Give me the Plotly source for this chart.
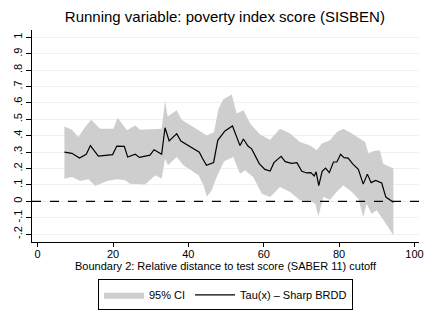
import plotly.graph_objects as go

# Point estimate Tau(x)
x_tau = [7.1, 9.1, 11.1, 12.9, 14.0, 16.1, 19.9, 21.0, 23.0, 23.9, 25.9, 27.0, 29.8, 30.9, 32.9,
         33.8, 34.9, 36.9, 38.0, 42.9, 43.8, 44.8, 46.7, 47.8, 49.7, 51.7, 53.7, 54.6, 55.8, 56.8,
         58.8, 60.3, 61.7, 62.7, 64.6, 65.7, 67.4, 68.8, 70.1, 71.4, 72.5, 73.4, 73.9, 74.6, 75.5,
         76.4, 77.4, 78.5, 79.4, 80.4, 81.3, 82.4, 83.6, 85.1, 86.4, 87.5, 88.5, 89.7, 91.3, 92.4, 94.4]
tau = [0.300, 0.293, 0.264, 0.287, 0.340, 0.276, 0.285, 0.337, 0.335, 0.270, 0.287, 0.268, 0.282, 0.315, 0.287,
       0.449, 0.368, 0.413, 0.368, 0.300, 0.260, 0.220, 0.237, 0.372, 0.429, 0.460, 0.340, 0.380, 0.337, 0.320,
       0.230, 0.195, 0.185, 0.236, 0.274, 0.242, 0.232, 0.236, 0.183, 0.173, 0.175, 0.155, 0.180, 0.096, 0.183,
       0.203, 0.175, 0.240, 0.240, 0.287, 0.266, 0.264, 0.228, 0.195, 0.105, 0.166, 0.114, 0.128, 0.112, 0.026, -0.006]

# Upper CI bound
x_up = [7.1, 9.1, 10.8, 12.5, 14.2, 16.6, 20.1, 21.2, 23.7, 25.9, 27.2, 32.9, 33.8, 34.5, 36.9, 38.2,
        42.7, 44.9, 46.8, 48.0, 49.3, 51.5, 52.8, 54.6, 56.4, 59.0, 61.7, 64.3, 67.0, 69.6, 72.3,
        74.1, 75.4, 77.6, 79.4, 81.1, 83.4, 85.5, 86.9, 87.8, 89.1, 90.8, 91.7, 94.4]
upper = [0.457, 0.437, 0.392, 0.450, 0.498, 0.443, 0.443, 0.510, 0.433, 0.463, 0.437, 0.443, 0.610, 0.518, 0.555, 0.498,
         0.433, 0.402, 0.423, 0.565, 0.622, 0.652, 0.535, 0.555, 0.474, 0.408, 0.376, 0.443, 0.413, 0.362, 0.341,
         0.311, 0.352, 0.372, 0.423, 0.443, 0.413, 0.382, 0.362, 0.290, 0.307, 0.311, 0.230, 0.200]

# Lower CI bound
x_lo = [7.1, 9.1, 11.3, 13.5, 15.3, 18.4, 21.0, 23.2, 24.5, 28.5, 31.2, 32.9, 33.8, 34.6, 36.9, 38.7,
        42.7, 44.0, 44.9, 46.2, 47.5, 49.5, 51.9, 53.7, 55.0, 57.2, 59.5, 61.7, 64.3, 67.0, 69.6,
        72.3, 73.7, 74.5, 75.8, 77.6, 78.9, 81.1, 83.4, 85.1, 86.4, 87.3, 88.6, 90.0, 91.3, 92.5, 94.4]
lower = [0.138, 0.148, 0.124, 0.134, 0.093, 0.124, 0.134, 0.128, 0.108, 0.102, 0.159, 0.138, 0.260, 0.220, 0.270, 0.220,
         0.159, 0.098, 0.030, 0.067, 0.148, 0.245, 0.270, 0.169, 0.189, 0.148, 0.047, 0.026, 0.087, 0.057, 0.006,
         0.006, -0.018, -0.091, 0.026, 0.010, 0.047, 0.098, 0.057, 0.016, -0.096, -0.014, -0.075, -0.055, -0.096, -0.140, -0.207]

y_ticks = [-0.2, -0.1, 0, 0.1, 0.2, 0.3, 0.4, 0.5, 0.6, 0.7, 0.8, 0.9, 1.0]
y_ticklabels = ["-.2", "-.1", "0", ".1", ".2", ".3", ".4", ".5", ".6", ".7", ".8", ".9", "1"]
x_ticks = [0, 20, 40, 60, 80, 100]

FONT = "Liberation Sans, Arial, Helvetica, sans-serif"

fig = go.Figure()
fig.add_trace(go.Scatter(
    x=x_up + x_lo[::-1], y=upper + lower[::-1],
    fill="toself", fillcolor="rgb(206,206,206)", mode="lines",
    line=dict(width=0, color="rgb(206,206,206)"), name="95% CI", hoverinfo="skip"))
fig.add_trace(go.Scatter(
    x=x_tau, y=tau, mode="lines", line=dict(color="black", width=1.2),
    name="Tau(x) \u2013 Sharp BRDD", hoverinfo="skip"))

fig.add_shape(type="line", xref="paper", x0=0, x1=1, yref="y", y0=0, y1=0,
              line=dict(color="black", width=1.3, dash="dash"))

fig.add_annotation(text="Boundary 2: Relative distance to test score (SABER 11) cutoff",
                   xref="paper", yref="paper", x=0.5, y=-0.114, xanchor="center",
                   yanchor="middle", showarrow=False, font=dict(size=11, family=FONT))

fig.update_layout(
    width=430, height=313,
    margin=dict(l=32, r=11, t=30, b=71, autoexpand=False),
    paper_bgcolor="white", plot_bgcolor="white",
    font=dict(family=FONT, color="black", size=11),
    title=dict(text="Running variable: poverty index score (SISBEN)",
               x=0.523, xanchor="center", y=0.945, yanchor="middle",
               font=dict(size=15, family=FONT, color="black")),
    showlegend=True,
    hovermode=False,
    legend=dict(orientation="h", x=0.5, xanchor="center", y=-0.176, yanchor="top",
                bordercolor="black", borderwidth=1, font=dict(size=11),
                traceorder="normal", itemwidth=40),
    xaxis=dict(range=[-1.5, 101.2], tickvals=x_ticks, showgrid=False, zeroline=False,
               automargin=False,
               showline=True, linecolor="black", linewidth=1, ticks="outside",
               ticklen=4, tickcolor="black", tickfont=dict(size=11),
               ticklabelstandoff=-2),
    yaxis=dict(range=[-0.248, 1.045], tickvals=y_ticks, ticktext=y_ticklabels,
               automargin=False,
               tickangle=-90, showgrid=True, gridcolor="rgb(234,242,243)", gridwidth=1,
               zeroline=False, showline=True, linecolor="black", linewidth=1,
               ticks="outside", ticklen=5, tickcolor="black", tickfont=dict(size=11)),
)

fig.write_html("out.html", config={"displayModeBar": False},
               post_script="document.body.style.margin='0';")
